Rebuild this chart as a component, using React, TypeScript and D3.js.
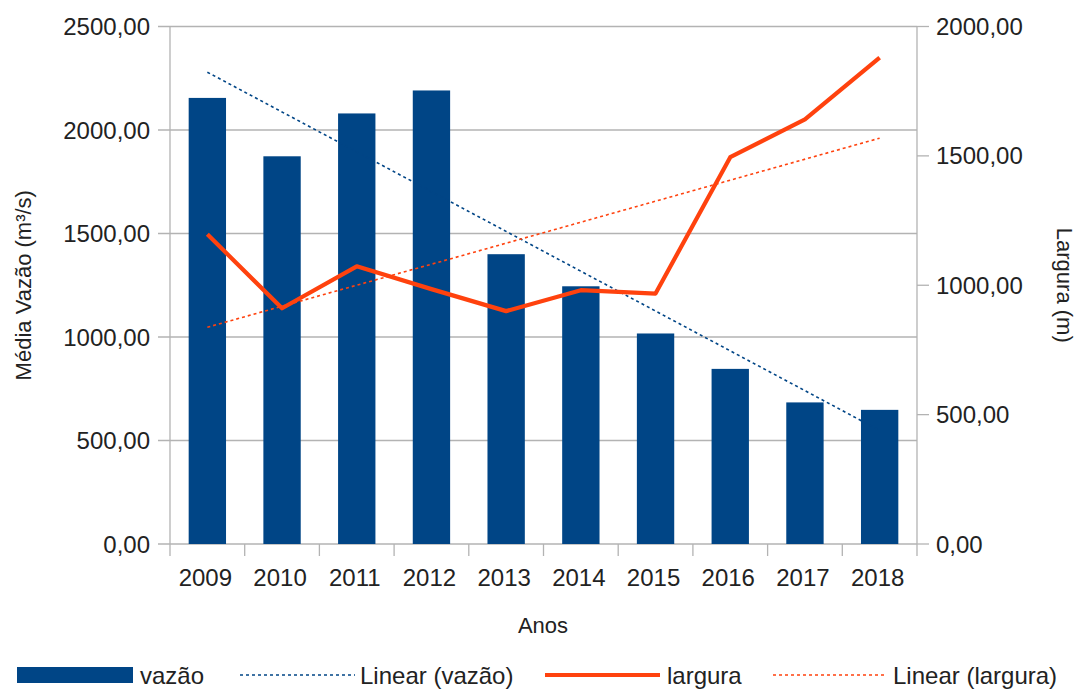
import React from 'react';
import * as d3 from 'd3';

const width = 1076;
const height = 689;
const margin = { top: 26.5, right: 159, bottom: 145, left: 170 };
const fontSize = 24;
const titleSize = 22;
const font = 'Liberation Sans, Arial, sans-serif';

const years = ['2009', '2010', '2011', '2012', '2013', '2014', '2015', '2016', '2017', '2018'];
const vazao = [2155, 1873, 2080, 2191, 1400, 1245, 1017, 846, 684, 648];
const largura = [1197, 911, 1073, 985, 900, 981, 968, 1495, 1641, 1880];
const leftTicks = [0, 500, 1000, 1500, 2000, 2500];
const rightTicks = [0, 500, 1000, 1500, 2000];

const blue = '#004586';
const orange = '#ff420e';
const grid = '#b3b3b3';

// linear regression (trend line), same as the spreadsheet's "Linear" trend
function trend(values: number[]) {
  const n = values.length;
  const xm = (n - 1) / 2;
  const ym = d3.mean(values) as number;
  let sxy = 0;
  let sxx = 0;
  values.forEach((v, i) => {
    sxy += (i - xm) * (v - ym);
    sxx += (i - xm) * (i - xm);
  });
  const slope = sxy / sxx;
  return [ym - slope * xm, ym + slope * (n - 1 - xm)];
}

const fmt = (v: number) => v.toFixed(2).replace('.', ',');

export default function App() {
  const x0 = margin.left;
  const x1 = width - margin.right;
  const y0 = height - margin.bottom;
  const y1 = margin.top;

  const x = d3.scaleBand<string>().domain(years).range([x0, x1]).paddingInner(0.5).paddingOuter(0.25);
  const yL = d3.scaleLinear().domain([0, 2500]).range([y0, y1]);
  const yR = d3.scaleLinear().domain([0, 2000]).range([y0, y1]);
  const cx = (d: string) => (x(d) as number) + x.bandwidth() / 2;

  const line = d3.line<number>()
    .x((_, i) => cx(years[i]))
    .y((d) => yR(d));

  const tv = trend(vazao);
  const tl = trend(largura);
  const step = (x1 - x0) / years.length;

  const legendY = 675;

  return (
    <svg width={width} height={height} style={{ position: 'absolute', left: 0, top: 0, background: '#fff' }}
      fontFamily={font} fontSize={fontSize} fill="#222">
      {/* gridlines */}
      {leftTicks.map((t) => (
        <line key={'g' + t} x1={x0 - 12} x2={x1} y1={yL(t)} y2={yL(t)} stroke={grid} strokeWidth={1.3} />
      ))}
      {/* left axis */}
      <line x1={x0} x2={x0} y1={y1} y2={y0 + 12} stroke={grid} strokeWidth={1.3} />
      {leftTicks.map((t) => (
        <text key={'l' + t} x={x0 - 20} y={yL(t)} textAnchor="end" dominantBaseline="central">{fmt(t)}</text>
      ))}
      {/* right axis */}
      <line x1={x1} x2={x1} y1={y1} y2={y0} stroke={grid} strokeWidth={1.3} />
      {rightTicks.map((t) => (
        <g key={'r' + t}>
          <line x1={x1} x2={x1 + 12} y1={yR(t)} y2={yR(t)} stroke={grid} strokeWidth={1.3} />
          <text x={x1 + 19} y={yR(t)} dominantBaseline="central">{fmt(t)}</text>
        </g>
      ))}
      {/* category ticks */}
      {years.map((d, i) => (
        <line key={'c' + d} x1={x0 + step * (i + 1)} x2={x0 + step * (i + 1)} y1={y0} y2={y0 + 12} stroke={grid} strokeWidth={1.3} />
      ))}
      {years.map((d) => (
        <text key={'y' + d} x={cx(d) - 2} y={577} textAnchor="middle" dominantBaseline="central">{d}</text>
      ))}
      {/* bars */}
      {vazao.map((v, i) => (
        <rect key={'b' + i} x={x(years[i])} y={yL(v)} width={x.bandwidth()} height={y0 - yL(v)} fill={blue} />
      ))}
      {/* trend lines */}
      <line x1={cx(years[0])} x2={cx(years[years.length - 1])} y1={yL(tv[0])} y2={yL(tv[1])}
        stroke={blue} strokeWidth={1.6} strokeDasharray="3,3" />
      <line x1={cx(years[0])} x2={cx(years[years.length - 1])} y1={yR(tl[0])} y2={yR(tl[1])}
        stroke={orange} strokeWidth={1.6} strokeDasharray="3,3" />
      {/* largura */}
      <path d={line(largura) as string} fill="none" stroke={orange} strokeWidth={4.2} strokeLinejoin="round" />
      {/* axis titles */}
      <text transform={`translate(23,${(y0 + y1) / 2}) rotate(-90)`} textAnchor="middle" dominantBaseline="central" fontSize={titleSize}>Média Vazão (m³/s)</text>
      <text transform={`translate(1064,${(y0 + y1) / 2}) rotate(90)`} textAnchor="middle" dominantBaseline="central" fontSize={titleSize}>Largura (m)</text>
      <text x={543} y={625} textAnchor="middle" dominantBaseline="central" fontSize={titleSize}>Anos</text>
      {/* legend */}
      <rect x={17} y={legendY - 8} width={116} height={16} fill={blue} />
      <text x={140} y={legendY} dominantBaseline="central">vazão</text>
      <line x1={240} x2={355} y1={legendY} y2={legendY} stroke={blue} strokeWidth={1.6} strokeDasharray="3,3" />
      <text x={360} y={legendY} dominantBaseline="central">Linear (vazão)</text>
      <line x1={545} x2={660} y1={legendY} y2={legendY} stroke={orange} strokeWidth={4.2} />
      <text x={667} y={legendY} dominantBaseline="central">largura</text>
      <line x1={773} x2={887} y1={legendY} y2={legendY} stroke={orange} strokeWidth={1.6} strokeDasharray="3,3" />
      <text x={893} y={legendY} dominantBaseline="central">Linear (largura)</text>
    </svg>
  );
}
